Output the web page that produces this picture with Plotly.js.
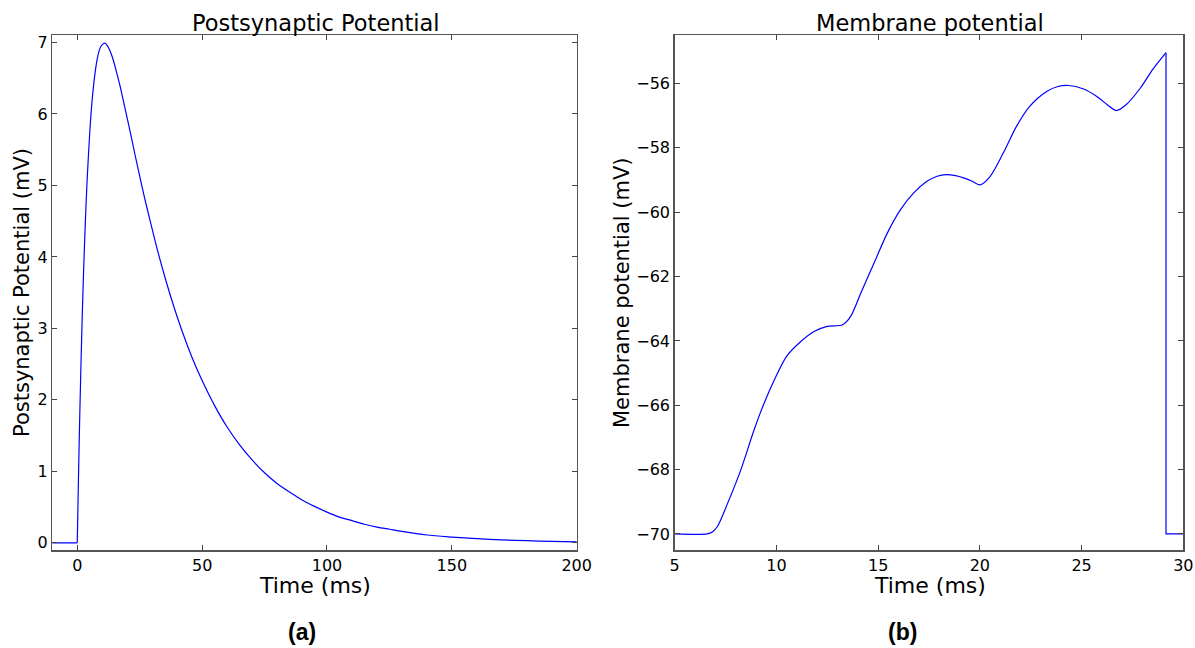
<!DOCTYPE html>
<html>
<head>
<meta charset="utf-8">
<script src="https://cdn.plot.ly/plotly-3.0.1.min.js"></script>
<style>html,body{margin:0;padding:0;background:#fff;}#chart{width:1195px;height:648px;}</style>
</head>
<body>
<div id="chart"></div>
<script>
// Panel (a): postsynaptic potential
const pspTime = [-10, 0, 0.3, 0.6, 1, 1.5, 2, 2.5, 3, 3.5, 4, 5, 6, 7, 8, 9, 10, 11, 12, 13, 14, 15, 17, 19, 21, 23, 25, 27, 29, 32, 35, 38, 42, 46, 50, 55, 60, 65, 70, 75, 80, 85, 90, 95, 100, 105, 110, 115, 120, 125, 130, 140, 150, 160, 170, 180, 190, 200];
const pspValue = [0, 0, 0.58, 1.12, 1.78, 2.52, 3.18, 3.76, 4.27, 4.72, 5.11, 5.74, 6.21, 6.54, 6.77, 6.91, 6.97, 6.99, 6.96, 6.89, 6.80, 6.68, 6.41, 6.10, 5.78, 5.45, 5.13, 4.82, 4.53, 4.11, 3.73, 3.38, 2.96, 2.59, 2.27, 1.92, 1.62, 1.37, 1.16, 0.98, 0.83, 0.71, 0.60, 0.51, 0.43, 0.36, 0.31, 0.26, 0.22, 0.19, 0.16, 0.11, 0.081, 0.058, 0.042, 0.030, 0.021, 0.015];

// Panel (b): membrane potential
const memTime = [5, 6.6, 6.85, 7.1, 7.6, 8.25, 8.9, 9.4, 9.9, 10.5, 11.2, 11.85, 12.5, 13.25, 13.65, 14.15, 14.8, 15.45, 16.1, 16.75, 17.4, 17.9, 18.35, 18.8, 19.2, 19.6, 20.0, 20.5, 21.15, 21.8, 22.45, 23.3, 23.8, 24.35, 25.1, 25.75, 26.25, 26.7, 27.2, 27.9, 28.5, 29.15, 29.15, 30];
const memValue = [-70, -70, -69.94, -69.77, -69.05, -68.01, -66.77, -65.93, -65.21, -64.48, -64.02, -63.71, -63.55, -63.50, -63.24, -62.51, -61.58, -60.65, -59.92, -59.40, -59.04, -58.88, -58.83, -58.86, -58.93, -59.03, -59.15, -58.89, -58.16, -57.33, -56.71, -56.24, -56.10, -56.06, -56.17, -56.40, -56.65, -56.84, -56.65, -56.13, -55.56, -55.04, -70, -70];

const titles = ["Postsynaptic Potential", "Membrane potential"];
const xTitles = ["Time (ms)", "Time (ms)"];
const yTitles = ["Postsynaptic Potential (mV)", "Membrane potential (mV)"];
const panelLabels = ["(a)", "(b)"];
const pspXTicks = [0, 50, 100, 150, 200];
const pspYTicks = [0, 1, 2, 3, 4, 5, 6, 7];
const memXTicks = [5, 10, 15, 20, 25, 30];
const memYTicks = [-70, -68, -66, -64, -62, -60, -58, -56];

const FONT = "DejaVu Sans, sans-serif";
const lineStyle = {color: "#0000ff", width: 1.2};
const smoothLine = {color: "#0000ff", width: 1.2, shape: "spline", smoothing: 0.8};

// split each series where the trace has a sharp step, so smoothing does not overshoot
const pspStep = 1;                     // index of the onset at t = 0
const memStep = memTime.length - 3;    // index of the last point before the reset

const traces = [
  {x: pspTime.slice(0, pspStep + 1), y: pspValue.slice(0, pspStep + 1), type: "scatter", mode: "lines", line: lineStyle, xaxis: "x", yaxis: "y"},
  {x: pspTime.slice(pspStep), y: pspValue.slice(pspStep), type: "scatter", mode: "lines", line: smoothLine, xaxis: "x", yaxis: "y"},
  {x: memTime.slice(0, memStep + 1), y: memValue.slice(0, memStep + 1), type: "scatter", mode: "lines", line: smoothLine, xaxis: "x2", yaxis: "y2"},
  {x: memTime.slice(memStep), y: memValue.slice(memStep), type: "scatter", mode: "lines", line: lineStyle, xaxis: "x2", yaxis: "y2"}
];

function axisBase(extra) {
  return Object.assign({
    showline: true, linecolor: "#555", linewidth: 1.5, mirror: "allticks",
    ticks: "inside", ticklen: 5, tickwidth: 1, tickcolor: "#444",
    showgrid: false, zeroline: false,
    tickfont: {family: FONT, size: 16, color: "#000"},
    fixedrange: true
  }, extra);
}

const W = 1195, H = 648;
const yDom = [1 - 550 / H, 1 - 35.3 / H];

function ann(text, px, py, size, extra) {
  return Object.assign({text: text, x: px / W, y: 1 - py / H, xref: "paper", yref: "paper", showarrow: false,
    font: {family: FONT, size: size, color: "#000"}, xanchor: "center", yanchor: "middle"}, extra || {});
}

const layout = {
  width: W, height: H,
  margin: {l: 0, r: 0, t: 0, b: 0},
  paper_bgcolor: "#fff", plot_bgcolor: "#fff",
  showlegend: false,
  font: {family: FONT, color: "#000"},
  xaxis: axisBase({domain: [52.3 / W, 576.7 / W], range: [-10, 200], tickvals: pspXTicks, anchor: "y"}),
  yaxis: axisBase({domain: yDom, range: [-0.1, 7.1], tickvals: pspYTicks, anchor: "x"}),
  xaxis2: axisBase({domain: [674.7 / W, 1183.3 / W], range: [5, 30], tickvals: memXTicks, anchor: "y2"}),
  yaxis2: axisBase({domain: yDom, range: [-70.5, -54.5], tickvals: memYTicks, anchor: "x2"}),
  annotations: [
    ann(titles[0], 316, 23, 22.5),
    ann(titles[1], 930, 23, 22.5),
    ann(xTitles[0], 315, 585, 22),
    ann(xTitles[1], 930, 585, 22),
    ann(yTitles[0], 22, 293, 21, {textangle: -90}),
    ann(yTitles[1], 622, 293, 21, {textangle: -90}),
    ann("<b>" + panelLabels[0] + "</b>", 302, 632, 23, {font: {family: "Liberation Sans, Arial, sans-serif", size: 23, color: "#000"}}),
    ann("<b>" + panelLabels[1] + "</b>", 902, 632, 23, {font: {family: "Liberation Sans, Arial, sans-serif", size: 23, color: "#000"}})
  ]
};

Plotly.newPlot("chart", traces, layout, {displayModeBar: false, staticPlot: true});
</script>
</body>
</html>
